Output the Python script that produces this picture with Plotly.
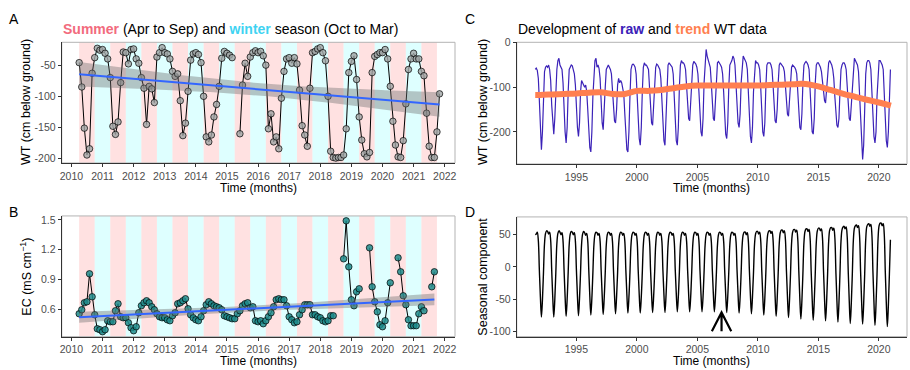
import numpy as np
import plotly.graph_objects as go

# ---------------- Panel A / B data (monthly, starting April 2010) ----------------
start_year = 2010
start_month = 4

wt_values = [
    -46, -85, -151, -194, -184, -63, -38, -23, -26,                      # 2010 Apr-Dec
    -25, -31, -40, -70, -148, -161, -141, -78, -29, -30, -48, -25,       # 2011
    -24, -40, -47, -70, -87, -145, -84, -88, -110, -37, -30, -22,        # 2012
    -30, -32, -40, -60, -68, -64, -107, -163, -143, -92, -42, -32,       # 2013
    -30, -33, -46, -100, -165, -173, -162, -133, -113, -84, -39, -28,    # 2014
    -31, -34, -38, None, None, -160, -82, -47, -68, -37, -30, -27,       # 2015
    -30, -28, -35, -50, -152, -128, -173, -165, -184, -103, -60, -40,    # 2016
    -38, -47, -38, -48, -90, -147, -162, -180, -87, -30, -28, -24,       # 2017
    -22, -30, -43, -100, -188, -198, -199, -198, -198, -194, -152, -62,  # 2018
    -44, -35, -73, -133, -170, -192, -197, -190, -62, -36, -33, -30,     # 2019
    -30, -25, -40, -84, -140, -178, -197, -198, -171, -112, -57, -40,    # 2020
    -31, -40, -40, -60, -67, -127, -180, -198, -198, -157, -96,          # 2021 Jan-Nov
]

ec_values = [
    0.56, 0.60, 0.67, 0.68, 0.96, 0.73, 0.55, 0.41, 0.40,                       # 2010
    0.38, 0.40, 0.49, 0.48, 0.48, 0.59, 0.66, 0.53, 0.52, 0.52, 0.47, 0.42,     # 2011
    0.39, 0.43, 0.57, 0.64, 0.67, 0.69, 0.67, 0.63, 0.60, 0.56, 0.53, 0.52,     # 2012
    0.52, 0.50, 0.49, 0.54, 0.57, 0.66, 0.67, 0.69, 0.71, 0.61, 0.55, 0.52,     # 2013
    0.50, 0.49, 0.53, 0.59, 0.65, 0.68, 0.66, 0.64, 0.63, 0.62, 0.60, 0.54,     # 2014
    0.53, 0.52, 0.51, 0.51, 0.56, 0.59, 0.64, 0.66, 0.67, 0.62, 0.63, 0.49,     # 2015
    0.48, 0.49, 0.46, 0.49, 0.53, 0.57, 0.63, 0.70, 0.71, 0.70, 0.70, 0.64,     # 2016
    0.53, 0.50, 0.47, 0.48, 0.55, 0.60, 0.65, 0.65, 0.65, 0.55, 0.55, 0.53,     # 2017
    0.52, 0.49, 0.48, 0.49, 0.54, 0.54, None, None, None, 1.11, 1.49, 1.03,     # 2018
    0.70, 0.64, 0.78, 0.81, None, None, None, 1.22, 0.83, 0.68, 0.58, 0.45,     # 2019
    0.43, 0.49, 0.67, 0.87, None, None, 1.12, 0.98, 0.74, 0.65, 0.50, 0.44,     # 2020
    0.44, 0.44, 0.56, 0.63, 0.59, None, None, 0.83, 0.98,                       # 2021
]

season_years = list(range(2010, 2022))
year_ticks_ab = list(range(2010, 2023))

# ---------------- Panel C / D data (decomposition series) ----------------
series_start = 1991.6
series_step = 0.0851   # sampling interval in axis years

raw_wt = [
    -60, -57, -62, -80, -130, -200, -240, -200, -120, -65, -55, -52,
    -55, -50, -60, -85, -140, -185, -205, -170, -100, -60, -40, -35,
    -50, -55, -60, -90, -150, -200, -225, -190, -110, -60, -55, -50,
    -52, -60, -70, -95, -150, -190, -210, -180, -110, -85, -90, -95,
    -100, -95, -110, -150, -200, -235, -245, -200, -120, -60, -40, -35,
    -55, -50, -58, -80, -140, -180, -195, -160, -100, -60, -55, -50,
    -55, -60, -70, -100, -150, -175, -180, -150, -95, -80, -90, -85,
    -90, -100, -115, -160, -210, -240, -245, -200, -120, -60, -50, -48,
    -50, -55, -70, -120, -180, -215, -230, -190, -110, -55, -45, -50,
    -50, -55, -60, -100, -150, -180, -185, -150, -90, -55, -48, -50,
    -55, -60, -80, -130, -190, -220, -230, -180, -100, -50, -45, -48,
    -50, -55, -70, -120, -180, -220, -230, -190, -100, -50, -40, -45,
    -45, -50, -60, -100, -150, -170, -175, -140, -80, -50, -42, -45,
    -48, -55, -70, -110, -170, -200, -210, -170, -90, -40, -15, -30,
    -40, -45, -55, -90, -140, -170, -175, -140, -80, -45, -42, -45,
    -50, -55, -70, -110, -170, -205, -215, -180, -100, -50, -45, -40,
    -30, -35, -50, -90, -150, -180, -190, -160, -90, -45, -30, -35,
    -40, -45, -60, -110, -170, -210, -225, -190, -110, -55, -40, -45,
    -45, -50, -60, -100, -160, -200, -210, -180, -100, -50, -45, -45,
    -45, -50, -60, -95, -145, -175, -180, -150, -90, -50, -45, -48,
    -50, -55, -65, -100, -140, -160, -165, -130, -80, -55, -50, -52,
    -55, -60, -70, -110, -160, -190, -195, -160, -90, -50, -45, -42,
    -45, -50, -60, -100, -160, -200, -205, -170, -90, -50, -45, -45,
    -50, -55, -65, -90, -120, -130, -135, -110, -70, -45, -40, -45,
    -50, -60, -80, -120, -160, -185, -190, -170, -110, -60, -50, -45,
    -45, -50, -60, -100, -150, -170, -175, -140, -80, -45, -35, -40,
    -45, -50, -65, -120, -190, -240, -262, -230, -140, -70, -45, -40,
    -40, -45, -60, -110, -170, -210, -225, -200, -120, -60, -40, -40,
    -45, -50, -60, -110, -180, -220, -235, -200, -130, -60,
]

seasonal = [
    50, 51, 54, 41, -5, -47, -78, -51, -9, 36, 52, 56,
    55, 51, 54, 41, -5, -47, -78, -51, -9, 36, 52, 56,
    54, 50, 53, 40, -5, -46, -77, -50, -9, 35, 51, 55,
    54, 50, 53, 40, -5, -46, -76, -49, -9, 35, 51, 55,
    53, 49, 52, 40, -5, -45, -75, -49, -9, 34, 50, 54,
    53, 49, 52, 40, -5, -44, -74, -48, -9, 34, 50, 54,
    53, 49, 52, 40, -5, -44, -73, -47, -9, 34, 50, 54,
    53, 49, 52, 40, -5, -43, -72, -47, -9, 34, 50, 54,
    53, 49, 52, 40, -5, -43, -72, -47, -9, 34, 50, 54,
    53, 49, 52, 40, -5, -43, -71, -46, -8, 34, 50, 54,
    53, 49, 52, 40, -5, -43, -71, -46, -8, 34, 50, 54,
    53, 49, 52, 40, -5, -42, -70, -46, -8, 34, 50, 54,
    53, 49, 52, 40, -5, -42, -70, -46, -8, 34, 50, 54,
    53, 49, 52, 40, -5, -42, -70, -46, -8, 34, 50, 54,
    53, 49, 52, 40, -5, -42, -70, -46, -8, 34, 50, 54,
    53, 49, 52, 40, -5, -43, -71, -46, -8, 34, 50, 54,
    53, 49, 52, 40, -5, -43, -72, -47, -9, 34, 50, 54,
    54, 50, 53, 40, -5, -44, -73, -47, -9, 35, 51, 55,
    55, 51, 54, 41, -5, -45, -75, -49, -9, 36, 52, 56,
    56, 52, 55, 42, -5, -46, -77, -50, -9, 36, 53, 57,
    57, 53, 56, 43, -6, -47, -79, -51, -9, 37, 54, 58,
    58, 54, 57, 43, -6, -49, -81, -53, -10, 38, 55, 59,
    59, 55, 58, 44, -6, -50, -83, -54, -10, 38, 56, 60,
    60, 56, 59, 45, -6, -50, -84, -55, -10, 39, 57, 61,
    61, 57, 60, 46, -6, -52, -86, -56, -10, 40, 58, 62,
    63, 59, 62, 47, -6, -53, -88, -57, -11, 41, 60, 64,
    65, 61, 64, 49, -6, -53, -89, -58, -11, 42, 62, 66,
    67, 63, 66, 50, -7, -55, -91, -59, -11, 44, 64, 68,
    68, 64, 67, 51, -7, -56, -93, -60, -11, 42,
]

trend_years = [1991.6, 1992, 1993, 1994, 1995, 1996, 1997, 1998, 1999, 2000, 2001,
               2002, 2003, 2004, 2005, 2006, 2007, 2008, 2009, 2010, 2011, 2012,
               2013, 2013.7, 2015, 2016, 2017, 2018, 2019, 2020, 2021]
trend_wt = [-117, -117, -116, -115, -114, -112, -111, -115, -115, -108, -108,
            -106, -102, -98, -96, -96, -96, -96, -96, -96, -95, -94,
            -93, -92, -98, -106, -114, -121, -128, -134, -141]

year_ticks_cd = [1995, 2000, 2005, 2010, 2015, 2020]

# ---------------- helpers ----------------
W, H = 910, 370
FONT = "Arial, 'Liberation Sans', sans-serif"


def px_x(p):
    return p / W


def px_y(p):
    return 1 - p / H


def decimal_times(n):
    return [start_year + (start_month - 1 + i) / 12.0 for i in range(n)]


def lm_band(t, v):
    t = np.asarray(t, float)
    v = np.array([np.nan if a is None else a for a in v], float)
    m = ~np.isnan(v)
    x, y = t[m], v[m]
    b1, b0 = np.polyfit(x, y, 1)
    n = len(x)
    resid = y - (b0 + b1 * x)
    s = np.sqrt(np.sum(resid ** 2) / (n - 2))
    xx = np.linspace(x.min(), x.max(), 100)
    se = s * np.sqrt(1.0 / n + (xx - x.mean()) ** 2 / np.sum((x - x.mean()) ** 2))
    fit = b0 + b1 * xx
    return xx, fit, fit - 1.98 * se, fit + 1.98 * se


t_wt = decimal_times(len(wt_values))
t_ec = decimal_times(len(ec_values))
t_cd = [series_start + i * series_step for i in range(len(seasonal))]
t_raw = [series_start + i * series_step for i in range(len(raw_wt))]

fig = go.Figure()

# ---- Panel A ----
fig.add_trace(go.Scatter(x=t_wt, y=wt_values, mode="lines+markers", xaxis="x", yaxis="y",
                         line=dict(color="black", width=1),
                         marker=dict(size=6.5, color="rgba(160,165,165,0.8)",
                                     line=dict(color="black", width=0.7)),
                         showlegend=False))
xx, fit, lo, hi = lm_band(t_wt, wt_values)
fig.add_trace(go.Scatter(x=np.concatenate([xx, xx[::-1]]), y=np.concatenate([hi, lo[::-1]]),
                         fill="toself", fillcolor="rgba(110,110,110,0.4)", line=dict(width=0),
                         xaxis="x", yaxis="y", showlegend=False, hoverinfo="skip"))
fig.add_trace(go.Scatter(x=xx, y=fit, mode="lines", line=dict(color="#3366FF", width=2),
                         xaxis="x", yaxis="y", showlegend=False))

# ---- Panel B ----
fig.add_trace(go.Scatter(x=t_ec, y=ec_values, mode="lines+markers", xaxis="x2", yaxis="y2",
                         line=dict(color="black", width=1),
                         marker=dict(size=6.5, color="rgba(30,140,140,0.85)",
                                     line=dict(color="black", width=0.7)),
                         showlegend=False))
xx, fit, lo, hi = lm_band(t_ec, ec_values)
fig.add_trace(go.Scatter(x=np.concatenate([xx, xx[::-1]]), y=np.concatenate([hi, lo[::-1]]),
                         fill="toself", fillcolor="rgba(110,110,110,0.4)", line=dict(width=0),
                         xaxis="x2", yaxis="y2", showlegend=False, hoverinfo="skip"))
fig.add_trace(go.Scatter(x=xx, y=fit, mode="lines", line=dict(color="#3366FF", width=2),
                         xaxis="x2", yaxis="y2", showlegend=False))

# ---- Panel C ----
fig.add_trace(go.Scatter(x=t_raw, y=raw_wt, mode="lines", xaxis="x3", yaxis="y3",
                         line=dict(color="#3b22b8", width=1.2), showlegend=False))
fig.add_trace(go.Scatter(x=trend_years, y=trend_wt, mode="lines", xaxis="x3", yaxis="y3",
                         line=dict(color="#FF7F50", width=6, shape="spline"), showlegend=False))

# ---- Panel D ----
fig.add_trace(go.Scatter(x=t_cd, y=seasonal, mode="lines", xaxis="x4", yaxis="y4",
                         line=dict(color="black", width=1.4, shape="spline"), showlegend=False))

# ---------------- shapes ----------------
shapes = []
for xr, yr in (("x", "y"), ("x2", "y2")):
    for y0 in season_years:
        shapes.append(dict(type="rect", xref=xr, yref=f"{yr} domain", x0=y0 + 0.25, x1=y0 + 0.75,
                           y0=0, y1=1, fillcolor="rgba(255,205,205,0.6)", line=dict(width=0),
                           layer="below"))
        if y0 < season_years[-1]:
            shapes.append(dict(type="rect", xref=xr, yref=f"{yr} domain", x0=y0 + 0.75, x1=y0 + 1.25,
                               y0=0, y1=1, fillcolor="rgba(200,255,255,0.6)", line=dict(width=0),
                               layer="below"))
for xr, yr in (("x", "y"), ("x2", "y2"), ("x3", "y3"), ("x4", "y4")):
    shapes.append(dict(type="rect", xref=f"{xr} domain", yref=f"{yr} domain", x0=0, x1=1, y0=0, y1=1,
                       line=dict(color="#b3b3b3", width=1), fillcolor="rgba(0,0,0,0)", layer="below"))

# arrow in D
shapes.append(dict(type="path", xref="x4", yref="y4",
                   path="M 2006.2,-100 L 2007.0,-71 L 2007.8,-100 M 2007.0,-71 L 2007.0,-100",
                   line=dict(color="black", width=2.2)))

# ---------------- axes ----------------
tickfont = dict(family=FONT, size=10.5, color="#4d4d4d")


def xaxis(domain, rng, ticks, anchor):
    return dict(domain=domain, range=rng, tickvals=ticks, ticktext=[str(t) for t in ticks],
                showgrid=False, zeroline=False, showline=True, linecolor="#333333", linewidth=1,
                ticks="outside", ticklen=3, tickcolor="#333333", tickfont=tickfont, anchor=anchor)


def yaxis(domain, rng, ticks, labels, anchor):
    return dict(domain=domain, range=rng, tickvals=ticks, ticktext=labels,
                showgrid=False, zeroline=False, showline=True, linecolor="#333333", linewidth=1,
                ticks="outside", ticklen=3, tickcolor="#333333", tickfont=tickfont, anchor=anchor)


xA = [px_x(60), px_x(455)]
xC = [px_x(517), px_x(909)]
yA = [px_y(160), px_y(37)]
yB = [px_y(337), px_y(214)]
yC = [px_y(161), px_y(37)]
yD = [px_y(337), px_y(215)]

fig.update_layout(
    width=W, height=H, autosize=False, margin=dict(l=0, r=0, t=0, b=0),
    paper_bgcolor="white", plot_bgcolor="white", font=dict(family=FONT),
    xaxis=xaxis(xA, [2009.69, 2022.33], year_ticks_ab, "y"),
    yaxis=yaxis(yA, [-206.8, -13.4], [-200, -150, -100, -50], ["-200", "-150", "-100", "-50"], "x"),
    xaxis2=xaxis(xA, [2009.69, 2022.33], year_ticks_ab, "y2"),
    yaxis2=yaxis(yB, [0.331, 1.539], [0.6, 0.9, 1.2, 1.5], ["0.6", "0.9", "1.2", "1.5"], "x2"),
    xaxis3=xaxis(xC, [1990.07, 2022.33], year_ticks_cd, "y3"),
    yaxis3=yaxis(yC, [-272, 1], [-200, -100, 0], ["-200", "-100", "0"], "x3"),
    xaxis4=xaxis(xC, [1990.07, 2022.33], year_ticks_cd, "y4"),
    yaxis4=yaxis(yD, [-108.5, 77.6], [-100, -50, 0, 50], ["-100", "-50", "0", "50"], "x4"),
    shapes=shapes,
)

# ---------------- annotations ----------------
ann = []


def text(x, y, s, size=13, color="black", xanchor="center", yanchor="middle", angle=0):
    ann.append(dict(x=px_x(x), y=px_y(y), xref="paper", yref="paper", text=s, showarrow=False,
                    font=dict(family=FONT, size=size, color=color), xanchor=xanchor,
                    yanchor=yanchor, textangle=angle))


text(5, 13, "A", size=14, xanchor="left")
text(5, 210, "B", size=14, xanchor="left")
text(463, 13, "C", size=14, xanchor="left")
text(463, 210, "D", size=14, xanchor="left")

text(59, 23, "<b><span style='color:#F26B7D'>Summer</span></b> (Apr to Sep) and "
             "<b><span style='color:#3FD3F2'>winter</span></b> season (Oct to Mar)",
     size=14, xanchor="left")
text(516, 23, "Development of <b><span style='color:#3b22b8'>raw</span></b> and "
              "<b><span style='color:#FF7F50'>trend</span></b> WT data",
     size=14, xanchor="left")

for cx in (257.5, 713):
    text(cx, 186, "Time (months)", size=12)
    text(cx, 362, "Time (months)", size=12)

text(24, 98, "WT (cm below ground)", size=12.5, angle=-90)
text(24, 276, "EC (mS cm<sup>−1</sup>)", size=12.5, angle=-90)
text(483, 98, "WT (cm below ground)", size=12.5, angle=-90)
text(483, 276, "Seasonal component", size=12.5, angle=-90)

fig.update_layout(annotations=ann)

fig.write_html("out.html")
